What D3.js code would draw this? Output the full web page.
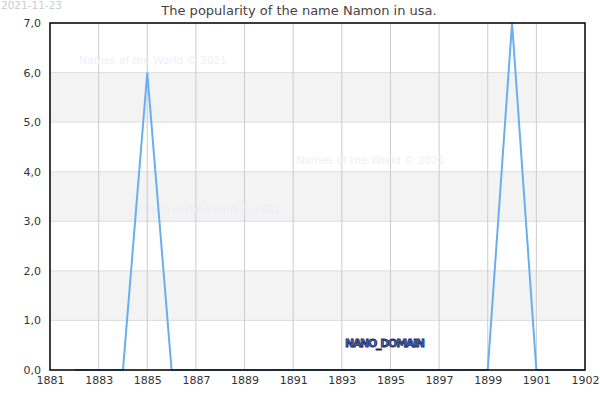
<!DOCTYPE html>
<html>
<head>
<meta charset="utf-8">
<script src="https://cdn.jsdelivr.net/npm/d3@7"></script>
<style>
  body { margin: 0; background: #fff; }
  svg { font-family: "DejaVu Sans", sans-serif; }
</style>
</head>
<body>
<div id="chart"></div>
<script>
const width = 600;
const height = 400;
const margin = { top: 23, right: 15, bottom: 30, left: 50 };

// data
const years = [1882, 1883, 1884, 1885, 1886, 1887, 1888, 1889, 1890, 1891, 1892,
    1893, 1894, 1895, 1896, 1897, 1898, 1899, 1900, 1901, 1902, 1903];
const counts = [0, 0, 0, 6, 0, 0, 0, 0, 0, 0, 0,
    0, 0, 0, 0, 0, 0, 0, 7, 0, 0, 0];
const xTickValues = [1881, 1883, 1885, 1887, 1889, 1891, 1893, 1895, 1897, 1899, 1901, 1903];
const xTickLabels = ["1881", "1883", "1885", "1887", "1889", "1891", "1893", "1895", "1897", "1899", "1901", "1902"];
const yTickValues = [0, 1, 2, 3, 4, 5, 6, 7];
const bands = [[1, 2], [3, 4], [5, 6]];
const watermarks = [[1882.2, 6.17], [1891.15, 4.16], [1884.4, 3.17]];

const points = years.map((y, i) => ({ year: y, value: counts[i] }));

const svg = d3.select("#chart").append("svg")
    .attr("width", width)
    .attr("height", height);

const x = d3.scaleLinear()
    .domain([1881, 1903])
    .range([margin.left, width - margin.right]);

const y = d3.scaleLinear()
    .domain([0, 7])
    .range([height - margin.bottom, margin.top]);

// grey bands
svg.append("g").selectAll("rect")
    .data(bands)
    .join("rect")
    .attr("x", x(1881))
    .attr("width", x(1903) - x(1881))
    .attr("y", d => y(d[1]))
    .attr("height", d => y(d[0]) - y(d[1]))
    .attr("fill", "#f3f3f3");

// horizontal grid
svg.append("g").selectAll("line")
    .data(yTickValues)
    .join("line")
    .attr("x1", x(1881)).attr("x2", x(1903))
    .attr("y1", d => y(d)).attr("y2", d => y(d))
    .attr("stroke", "#dddddd");

// vertical grid
svg.append("g").selectAll("line")
    .data(xTickValues.slice(1, -1))
    .join("line")
    .attr("x1", d => x(d)).attr("x2", d => x(d))
    .attr("y1", y(0)).attr("y2", y(7))
    .attr("stroke", "#cccccc");

// watermarks
svg.append("g").selectAll("text")
    .data(watermarks)
    .join("text")
    .attr("x", d => x(d[0]))
    .attr("y", d => y(d[1]))
    .attr("font-size", "10.5px")
    .attr("fill", "#eeeefb")
    .text("Names of the World © 2021");

// line
svg.append("path")
    .datum(points)
    .attr("fill", "none")
    .attr("stroke", "#6aaef0")
    .attr("stroke-width", 2)
    .attr("d", d3.line().x(d => x(d.year)).y(d => y(d.value)));

// frame
svg.append("rect")
    .attr("x", x(1881))
    .attr("y", y(7))
    .attr("width", x(1903) - x(1881))
    .attr("height", y(0) - y(7))
    .attr("fill", "none")
    .attr("stroke", "#000")
    .attr("stroke-width", 1.5);

// x axis
const xAxis = svg.append("g")
    .attr("transform", `translate(0,${y(0)})`)
    .call(d3.axisBottom(x)
        .tickValues(xTickValues)
        .tickSize(0)
        .tickPadding(6)
        .tickFormat((d, i) => xTickLabels[i]));
xAxis.select(".domain").remove();
xAxis.selectAll("text").attr("font-size", "11px").attr("fill", "#333")
    .attr("font-family", "DejaVu Sans, sans-serif");

// y axis
const yAxis = svg.append("g")
    .attr("transform", `translate(${x(1881)},0)`)
    .call(d3.axisLeft(y)
        .tickValues(yTickValues)
        .tickSize(0)
        .tickPadding(9)
        .tickFormat(d => d.toFixed(1).replace(".", ",")));
yAxis.select(".domain").remove();
yAxis.selectAll("text").attr("font-size", "11px").attr("fill", "#333")
    .attr("font-family", "DejaVu Sans, sans-serif");

// title
svg.append("text")
    .attr("x", 299)
    .attr("y", 15)
    .attr("text-anchor", "middle")
    .attr("font-size", "13px")
    .attr("fill", "#444")
    .text("The popularity of the name Namon in usa.");

// date
svg.append("text")
    .attr("x", 1)
    .attr("y", 9)
    .attr("font-size", "10.5px")
    .attr("fill", "#cccccc")
    .text("2021-11-23");

// domain label
svg.append("text")
    .attr("x", 345)
    .attr("y", 347)
    .attr("font-size", "11px")
    .attr("font-weight", "bold")
    .attr("fill", "#4a64a8")
    .attr("stroke", "#1c2c66")
    .attr("stroke-width", 0.8)
    .attr("textLength", 80)
    .text("NANO_DOMAIN");
</script>
</body>
</html>
